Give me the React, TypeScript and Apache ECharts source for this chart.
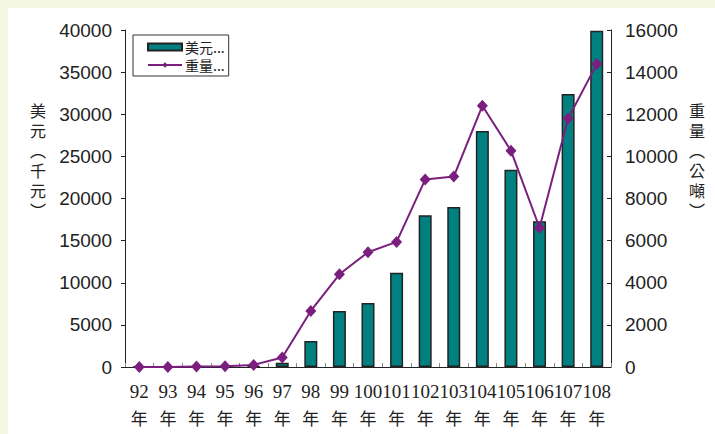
import React, { useEffect, useRef } from "react";
import * as echarts from "echarts";

const years = ["92", "93", "94", "95", "96", "97", "98", "99", "100", "101", "102", "103", "104", "105", "106", "107", "108"];
const usdValues = [0, 0, 0, 0, 50, 500, 3100, 6650, 7600, 11200, 18000, 19000, 28000, 23400, 17300, 32400, 39900];
const weightValues = [0, 0, 20, 30, 100, 450, 2660, 4400, 5450, 5940, 8900, 9040, 12400, 10270, 6610, 11800, 14380];
const seriesNames = ["美元", "重量"];
const leftAxisTitle = ["美", "元", "︵", "千", "元", "︶"];
const rightAxisTitle = ["重", "量", "︵", "公", "噸", "︶"];

const CJK = '"Noto Sans CJK TC", "Noto Sans CJK SC", sans-serif';
const SANS = '"Liberation Sans", Arial, sans-serif';

function titleChars(chars: string[], x: number, y0: number) {
  return chars.map((c, i) => ({
    type: "text",
    x,
    y: y0 + i * 20,
    style: { text: c, font: `16px ${CJK}`, fill: "#222", align: "center", verticalAlign: "top" },
  }));
}

export default function App() {
  const ref = useRef<HTMLDivElement>(null);
  useEffect(() => {
    if (!ref.current) return;
    const chart = echarts.init(ref.current, undefined, { renderer: "svg" });
    chart.setOption({
      animation: false,
      backgroundColor: "#ffffff",
      grid: { left: 117, right: 104, top: 22, bottom: 67 },
      legend: {
        orient: "vertical",
        left: 125,
        top: 27,
        padding: [5, 4, 4, 14],
        itemGap: 4,
        itemWidth: 34,
        itemHeight: 7,
        borderColor: "#333",
        borderWidth: 1,
        borderRadius: 0,
        backgroundColor: "#fff",
        formatter: (n: string) => n + "...",
        textStyle: { fontFamily: CJK, fontSize: 14, color: "#222", padding: [0, 0, 0, -2] },
        data: [
          { name: seriesNames[0], icon: "rect" },
          { name: seriesNames[1] },
        ],
      },
      xAxis: {
        type: "category",
        data: years,
        boundaryGap: true,
        axisLine: { lineStyle: { color: "#222", width: 1 } },
        axisTick: { show: true, inside: true, length: 4, lineStyle: { color: "#888" } },
        axisLabel: {
          interval: 0,
          margin: 11,
          formatter: (v: string) => `{n|${v}}\n{y|年}`,
          rich: {
            n: { fontFamily: '"Liberation Serif", serif', fontSize: 19, lineHeight: 26, color: "#222" },
            y: { fontFamily: CJK, fontSize: 17, lineHeight: 26, color: "#222" },
          },
        },
      },
      yAxis: [
        {
          type: "value",
          min: 0,
          max: 40000,
          interval: 5000,
          splitLine: { show: false },
          axisLine: { show: true, lineStyle: { color: "#222", width: 1 } },
          axisTick: { show: true, inside: false, length: 4, lineStyle: { color: "#222" } },
          axisLabel: { margin: 13, fontFamily: SANS, fontSize: 19, color: "#222", formatter: (v: number) => String(v) },
        },
        {
          type: "value",
          min: 0,
          max: 16000,
          interval: 2000,
          position: "right",
          splitLine: { show: false },
          axisLine: { show: true, lineStyle: { color: "#222", width: 1 } },
          axisTick: { show: true, inside: true, length: 4, lineStyle: { color: "#222" } },
          axisLabel: { margin: 14, fontFamily: SANS, fontSize: 19, color: "#222", formatter: (v: number) => String(v) },
        },
      ],
      graphic: [...titleChars(leftAxisTitle, 30, 94), ...titleChars(rightAxisTitle, 689, 94)],
      series: [
        {
          name: seriesNames[0],
          type: "bar",
          yAxisIndex: 0,
          data: usdValues,
          barWidth: 13,
          itemStyle: { color: "#008080", borderColor: "#222", borderWidth: 1.5 },
        },
        {
          name: seriesNames[1],
          type: "line",
          yAxisIndex: 1,
          data: weightValues,
          symbol: "diamond",
          symbolSize: [11, 12],
          lineStyle: { color: "#7a1f7d", width: 2 },
          itemStyle: { color: "#7a1f7d" },
          z: 5,
        },
      ],
    });
    return () => chart.dispose();
  }, []);
  return (
    <div style={{ position: "fixed", left: 0, top: 0, width: 715, height: 434, background: "#f4f7e1" }}>
      <div ref={ref} style={{ position: "absolute", left: 8, top: 8, width: 707, height: 426 }} />
    </div>
  );
}
